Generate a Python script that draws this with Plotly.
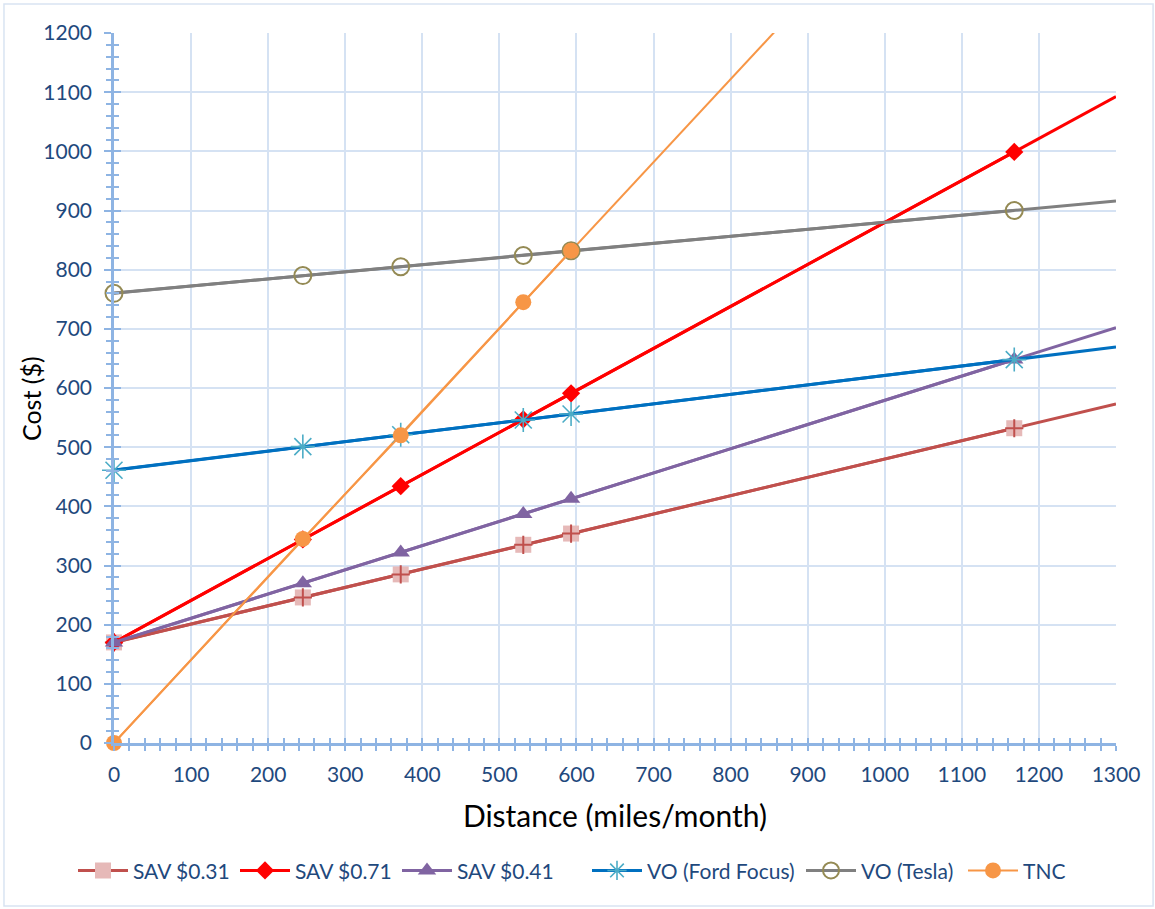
import numpy as np
import plotly.graph_objects as go

# Monthly distance (miles/month) at which each cost was evaluated
distance = [0, 245, 372, 531, 593, 1168]
distance_tnc = [0, 245, 372, 531, 593]

# Monthly cost ($) per mobility option
sav_031 = [170, 246, 285, 335, 354, 532]
sav_071 = [170, 344, 434, 547, 591, 999]
sav_041 = [170, 270, 322, 387, 413, 648]
vo_ford = [461, 501, 521, 546, 556, 648]
vo_tesla = [760, 790, 805, 824, 832, 900]
tnc = [0, 345, 520, 745, 832]

x_ticks = list(range(0, 1301, 100))
y_ticks = list(range(0, 1201, 100))

X_MAX, Y_MAX = 1300, 1200
AXIS_BLUE = "#8EB4E3"
GRID_BLUE = "#D5E2F3"
LABEL_BLUE = "#1F497D"
FONT = "Lato"

# plot area in pixels (used to place the legend entries along the bottom)
PLOT_LEFT, PLOT_WIDTH = 114, 1002

series = [
    dict(name="SAV $0.31", x=distance, y=sav_031, color="#C0504D", width=3, text_px=135,
         marker=dict(symbol="square", size=16, color="#E6B9B8", line=dict(width=0))),
    dict(name="SAV $0.71", x=distance, y=sav_071, color="#FF0000", width=3, text_px=297,
         marker=dict(symbol="diamond", size=14, color="#FF0000", line=dict(width=0))),
    dict(name="SAV $0.41", x=distance, y=sav_041, color="#8064A2", width=3, text_px=459,
         marker=dict(symbol="triangle-up", size=16, color="#8064A2", line=dict(width=0))),
    dict(name="VO (Ford Focus)", x=distance, y=vo_ford, color="#0070C0", width=3, text_px=649,
         marker=dict(symbol="asterisk-open", size=20, color="#4BACC6",
                     line=dict(width=1.6, color="#4BACC6"))),
    dict(name="VO (Tesla)", x=distance, y=vo_tesla, color="#808080", width=3, text_px=863,
         marker=dict(symbol="circle-open", size=17, color="#948A54",
                     line=dict(width=2, color="#948A54"))),
    dict(name="TNC", x=distance_tnc, y=tnc, color="#F79646", width=2, text_px=1025,
         marker=dict(symbol="circle", size=16, color="#F79646", line=dict(width=0))),
]

fig = go.Figure()

# Linear trend line of each series across the full distance axis
for s in series:
    slope, intercept = np.polyfit(s["x"], s["y"], 1)
    xs = np.array([0.0, X_MAX])
    fig.add_trace(go.Scatter(
        x=xs, y=slope * xs + intercept, mode="lines",
        line=dict(color=s["color"], width=s["width"]),
        showlegend=False, hoverinfo="skip"))

legend_layouts = {}
legend_font = dict(family=FONT, size=21, color=LABEL_BLUE)

# Observed points, one legend box per series along the bottom
for i, s in enumerate(series):
    legend_id = "legend" if i == 0 else f"legend{i + 1}"
    legend_layouts[legend_id] = dict(
        orientation="h", x=(s["text_px"] - 62 - PLOT_LEFT) / PLOT_WIDTH, xanchor="left",
        y=-0.18, yanchor="middle", font=legend_font, itemwidth=50,
        bgcolor="rgba(0,0,0,0)")
    fig.add_trace(go.Scatter(
        x=s["x"], y=s["y"], name=s["name"], mode="lines+markers",
        line=dict(color=s["color"], width=s["width"]),
        marker=s["marker"], cliponaxis=False, legend=legend_id))
    if s["name"] == "SAV $0.31":
        fig.add_trace(go.Scatter(
            x=s["x"], y=s["y"], mode="markers", showlegend=False,
            marker=dict(symbol="cross-thin", size=13,
                        line=dict(width=2, color="#C0504D")),
            cliponaxis=False, hoverinfo="skip"))

# Overlay axes carry the inward half of the tick marks
fig.add_trace(go.Scatter(x=[None], y=[None], xaxis="x2", yaxis="y2",
                         showlegend=False, hoverinfo="skip"))

tick_font = dict(family=FONT, size=21, color=LABEL_BLUE)

fig.update_layout(
    width=1155, height=909,
    margin=dict(l=114, r=39, t=33, b=166),
    paper_bgcolor="white", plot_bgcolor="white",
    font=dict(family=FONT, color=LABEL_BLUE),
    showlegend=True,
    xaxis=dict(range=[0, X_MAX], tickvals=x_ticks, tickfont=tick_font,
               showgrid=True, gridcolor=GRID_BLUE, gridwidth=2,
               showline=True, linecolor=AXIS_BLUE, linewidth=2.5,
               ticks="outside", ticklen=5, tickwidth=2, tickcolor=AXIS_BLUE,
               minor=dict(dtick=20, ticks="outside", ticklen=5, tickwidth=2,
                          tickcolor=AXIS_BLUE, showgrid=False),
               ticklabelstandoff=6, zeroline=False, automargin=False,
               title=dict(text="Distance (miles/month)", standoff=22,
                          font=dict(family=FONT, size=30, color="black"))),
    yaxis=dict(range=[0, Y_MAX], tickvals=y_ticks, tickfont=tick_font,
               showgrid=True, gridcolor=GRID_BLUE, gridwidth=2,
               showline=True, linecolor=AXIS_BLUE, linewidth=2.5,
               ticks="outside", ticklen=7, tickwidth=2, tickcolor=AXIS_BLUE,
               minor=dict(dtick=20, ticks="outside", ticklen=5, tickwidth=2,
                          tickcolor=AXIS_BLUE, showgrid=False),
               ticklabelstandoff=8, zeroline=False, automargin=False),
    xaxis2=dict(range=[0, X_MAX], overlaying="x", anchor="y2", side="bottom",
                tickvals=x_ticks, showticklabels=False, showgrid=False,
                zeroline=False, showline=False, automargin=False,
                ticks="inside", ticklen=5, tickwidth=2, tickcolor=AXIS_BLUE,
                minor=dict(dtick=20, ticks="inside", ticklen=5, tickwidth=2,
                           tickcolor=AXIS_BLUE, showgrid=False)),
    yaxis2=dict(range=[0, Y_MAX], overlaying="y", anchor="x2", side="left",
                tickvals=y_ticks, showticklabels=False, showgrid=False,
                zeroline=False, showline=False, automargin=False,
                ticks="inside", ticklen=7, tickwidth=2, tickcolor=AXIS_BLUE,
                minor=dict(dtick=20, ticks="inside", ticklen=5, tickwidth=2,
                           tickcolor=AXIS_BLUE, showgrid=False)),
    annotations=[dict(text="Cost ($)", textangle=-90, xref="paper", yref="paper",
                      x=-0.0828, y=0.4845, xanchor="center", yanchor="middle",
                      showarrow=False, font=dict(family=FONT, size=25, color="black"))],
    shapes=[dict(type="rect", xref="paper", yref="paper",
                 x0=-0.1098, x1=1.037, y0=-0.2296, y1=1.0408,
                 line=dict(color="#D9E4F2", width=1.5), layer="below")],
    **legend_layouts,
)

fig.write_html("out.html")
